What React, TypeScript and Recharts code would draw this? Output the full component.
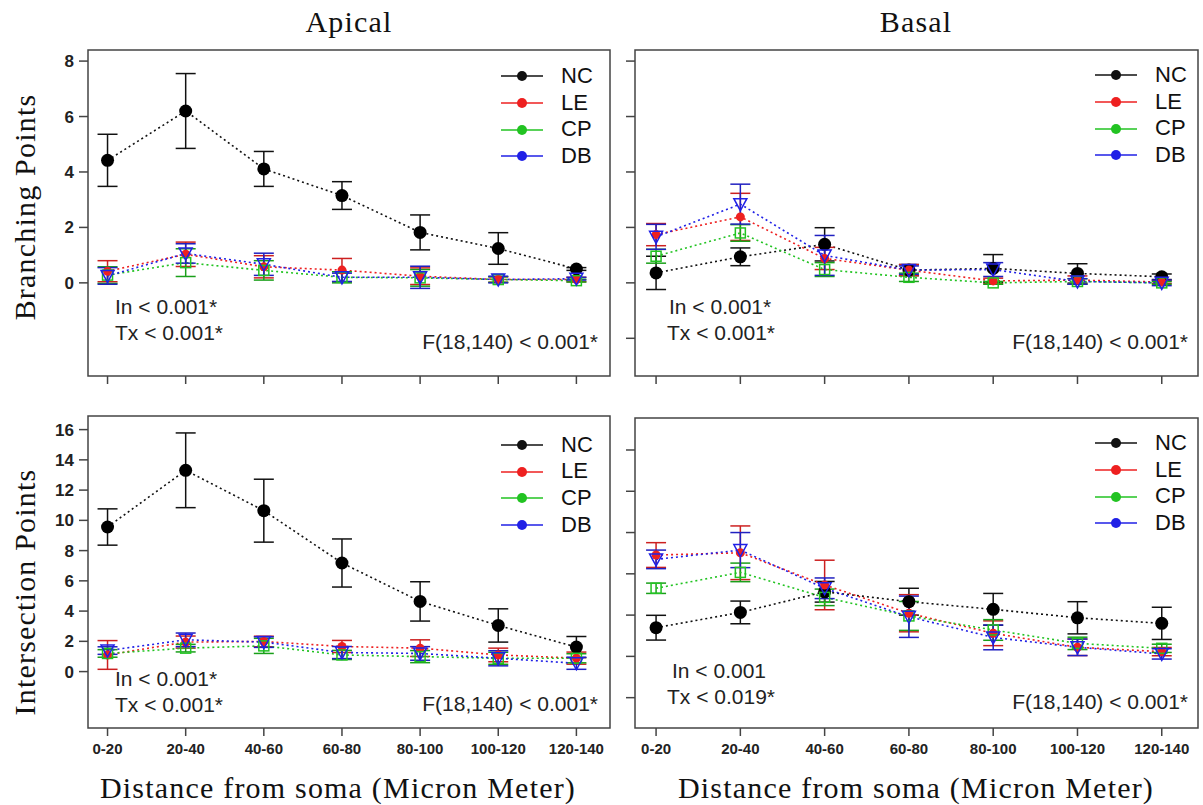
import React from "react";
import { LineChart, Line, XAxis, YAxis, ErrorBar, ReferenceArea, Legend } from "recharts";

// distance bins (µm from soma)
const categories = ["0-20", "20-40", "40-60", "60-80", "80-100", "100-120", "120-140"];
const groups = ["NC", "LE", "CP", "DB"];
const groupColors: Record<string, string> = { NC: "#111111", LE: "#ee2020", CP: "#22c322", DB: "#2020e6" };
const barColors: Record<string, string> = { NC: "#111111", LE: "#cc2020", CP: "#1a9f1a", DB: "#2020c0" };

// Apical – branching points
const apicalBranchNC = [4.42, 6.2, 4.11, 3.15, 1.82, 1.24, 0.5];
const apicalBranchNCErr = [0.94, 1.35, 0.63, 0.5, 0.63, 0.57, 0.05];
const apicalBranchLE = [0.42, 1.03, 0.58, 0.46, 0.24, 0.12, 0.12];
const apicalBranchLEErr = [0.38, 0.44, 0.4, 0.42, 0.3, 0.1, 0.08];
const apicalBranchCP = [0.28, 0.73, 0.45, 0.2, 0.18, 0.12, 0.08];
const apicalBranchCPErr = [0.3, 0.5, 0.35, 0.2, 0.3, 0.1, 0.05];
const apicalBranchDB = [0.25, 1.06, 0.67, 0.2, 0.2, 0.12, 0.15];
const apicalBranchDBErr = [0.3, 0.35, 0.4, 0.15, 0.4, 0.12, 0.05];

// Basal – branching points
const basalBranchNC = [0.36, 0.94, 1.39, 0.46, 0.52, 0.34, 0.22];
const basalBranchNCErr = [0.6, 0.32, 0.6, 0.2, 0.5, 0.35, 0.1];
const basalBranchLE = [1.74, 2.38, 0.88, 0.46, 0.07, 0.1, 0.03];
const basalBranchLEErr = [0.4, 0.85, 0.4, 0.2, 0.1, 0.15, 0.05];
const basalBranchCP = [0.96, 1.8, 0.48, 0.2, 0.0, 0.05, 0.0];
const basalBranchCPErr = [0.25, 0.3, 0.25, 0.15, 0.05, 0.1, 0.05];
const basalBranchDB = [1.66, 2.84, 0.99, 0.46, 0.48, 0.05, 0.0];
const basalBranchDBErr = [0.45, 0.72, 0.72, 0.15, 0.25, 0.1, 0.1];

// Apical – intersection points
const apicalInterNC = [9.56, 13.31, 10.64, 7.18, 4.64, 3.05, 1.62];
const apicalInterNCErr = [1.2, 2.47, 2.08, 1.59, 1.3, 1.1, 0.7];
const apicalInterLE = [1.1, 1.95, 1.99, 1.66, 1.55, 1.1, 0.89];
const apicalInterLEErr = [0.95, 0.4, 0.35, 0.4, 0.55, 0.45, 0.4];
const apicalInterCP = [1.2, 1.55, 1.7, 1.1, 0.99, 0.88, 0.88];
const apicalInterCPErr = [0.25, 0.25, 0.5, 0.3, 0.4, 0.4, 0.3];
const apicalInterDB = [1.39, 2.1, 1.95, 1.26, 1.2, 0.88, 0.55];
const apicalInterDBErr = [0.25, 0.45, 0.35, 0.4, 0.45, 0.5, 0.4];

// Basal – intersection points
const basalInterNC = [3.39, 4.13, 5.13, 4.65, 4.28, 3.87, 3.6];
const basalInterNCErr = [0.6, 0.55, 0.5, 0.65, 0.77, 0.78, 0.78];
const basalInterLE = [6.91, 7.02, 5.46, 4.09, 3.12, 2.44, 2.23];
const basalInterLEErr = [0.6, 1.3, 1.2, 0.9, 0.6, 0.4, 0.2];
const basalInterCP = [5.3, 6.07, 4.86, 3.96, 3.28, 2.63, 2.39];
const basalInterCPErr = [0.25, 0.45, 0.4, 0.7, 0.5, 0.3, 0.2];
const basalInterDB = [6.7, 7.15, 5.3, 3.92, 2.92, 2.44, 2.12];
const basalInterDBErr = [0.45, 0.85, 0.5, 1.0, 0.6, 0.4, 0.25];

const branchTicksLeft = [0, 2, 4, 6, 8];
const branchTicksRight = [-2, 0, 2, 4, 6, 8];
const interTicksLeft = [0, 2, 4, 6, 8, 10, 12, 14, 16];
const interTicksRight = [0, 2, 4, 6, 8, 10, 12];

const notesApicalBranch = ["In < 0.001*", "Tx < 0.001*", "F(18,140) < 0.001*"];
const notesBasalBranch = ["In < 0.001*", "Tx < 0.001*", "F(18,140) < 0.001*"];
const notesApicalInter = ["In < 0.001*", "Tx < 0.001*", "F(18,140) < 0.001*"];
const notesBasalInter = ["In < 0.001", "Tx < 0.019*", "F(18,140) < 0.001*"];

const X_DOMAIN: [number, number] = [0.75, 7.43];
const SANS = "'Liberation Sans', Arial, sans-serif";
const SERIF = "'Liberation Serif', 'Times New Roman', serif";

function buildRows(values: number[][], errors: number[][]) {
  return categories.map((c, i) => {
    const row: any = { x: i + 1, label: c };
    groups.forEach((g, k) => {
      row[g] = values[k][i];
      row[g + "Err"] = errors[k][i];
    });
    return row;
  });
}

function Marker(props: any) {
  const { cx, cy, group } = props;
  if (cx == null || cy == null) return null;
  const c = groupColors[group];
  if (group === "NC") return <circle cx={cx} cy={cy} r={6.5} fill="#000" />;
  if (group === "LE") return <circle cx={cx} cy={cy} r={4.5} fill={c} />;
  if (group === "CP")
    return <rect x={cx - 5} y={cy - 5} width={10} height={10} fill="none" stroke={c} strokeWidth={1.5} />;
  return (
    <path d={`M${cx - 6.5},${cy - 5.5}L${cx + 6.5},${cy - 5.5}L${cx},${cy + 6.5}Z`} fill="none" stroke={c} strokeWidth={1.5} />
  );
}

const renderLegend = (props: any) => {
  const items = [...(props.payload || [])].sort(
    (a: any, b: any) => groups.indexOf(a.value) - groups.indexOf(b.value)
  );
  return (
    <div style={{ fontFamily: SANS, fontSize: 22, color: "#111" }}>
      {items.map((item: any) => (
        <div key={item.value} style={{ display: "flex", alignItems: "center", height: 26.7 }}>
          <svg width={42} height={14}>
            <line x1={0} y1={7} x2={42} y2={7} stroke={item.color} strokeWidth={1.5} />
            <circle cx={21} cy={7} r={5} fill={item.color} />
          </svg>
          <span style={{ marginLeft: 18, lineHeight: "26.7px" }}>{item.value}</span>
        </div>
      ))}
    </div>
  );
};

interface PanelProps {
  left: number;
  top: number;
  width: number;
  height: number;
  margin: { top: number; right: number; bottom: number; left: number };
  yWidth: number;
  xHeight: number;
  yDomain: [number, number];
  yTicks: number[];
  showYLabels: boolean;
  showXLabels: boolean;
  rows: any[];
  legendPos: { left: number; top: number };
}

function Panel(p: PanelProps) {
  return (
    <div style={{ position: "absolute", left: p.left, top: p.top }}>
      <LineChart width={p.width} height={p.height} data={p.rows} margin={p.margin}>
        <ReferenceArea
          x1={X_DOMAIN[0]}
          x2={X_DOMAIN[1]}
          y1={p.yDomain[0]}
          y2={p.yDomain[1]}
          fill="none"
          stroke="#444"
          strokeWidth={1.5}
          ifOverflow="visible"
        />
        <XAxis
          type="number"
          dataKey="x"
          domain={X_DOMAIN}
          allowDataOverflow
          ticks={[1, 2, 3, 4, 5, 6, 7]}
          interval={0}
          axisLine={false}
          tickSize={8}
          tickMargin={7}
          height={p.xHeight}
          tickLine={{ stroke: "#444", strokeWidth: 1.5 }}
          tick={{ fontFamily: SANS, fontWeight: 700, fontSize: 15, fill: "#222" }}
          tickFormatter={(v: number) => (p.showXLabels ? categories[v - 1] : "")}
        />
        <YAxis
          type="number"
          domain={p.yDomain}
          allowDataOverflow
          ticks={p.yTicks}
          interval={0}
          width={p.yWidth}
          axisLine={false}
          tickSize={9}
          tickMargin={5}
          tickLine={{ stroke: "#444", strokeWidth: 1.5 }}
          tick={{ fontFamily: SANS, fontWeight: 700, fontSize: 17, fill: "#222" }}
          tickFormatter={(v: number) => (p.showYLabels ? String(v) : "")}
        />
        <Legend
          layout="vertical"
          align="center"
          verticalAlign="middle"
          content={renderLegend}
          wrapperStyle={{ left: p.legendPos.left, top: p.legendPos.top, width: 110 }}
        />
        {groups.map((g) => (
          <Line
            key={g}
            dataKey={g}
            name={g}
            stroke={groupColors[g]}
            strokeWidth={1.6}
            strokeDasharray="2 3"
            isAnimationActive={false}
            activeDot={false}
            dot={(dp: any) => <Marker key={`${g}-${dp.index}`} {...dp} group={g} />}
          >
            <ErrorBar
              dataKey={g + "Err"}
              direction="y"
              width={10}
              stroke={barColors[g]}
              strokeWidth={1.5}
              isAnimationActive={false}
            />
          </Line>
        ))}
      </LineChart>
    </div>
  );
}

function Note({ text, left, right, cy }: { text: string; left?: number; right?: number; cy: number }) {
  return (
    <div
      style={{
        position: "absolute",
        top: cy - 12,
        height: 24,
        lineHeight: "24px",
        left,
        width: right != null ? 260 : undefined,
        marginLeft: right != null ? right - 260 : 0,
        textAlign: right != null ? "right" : "left",
        fontFamily: SANS,
        fontSize: 21,
        color: "#222",
        whiteSpace: "nowrap",
      }}
    >
      {text}
    </div>
  );
}

function SerifTitle({ text, cx, cy, rotate }: { text: string; cx: number; cy: number; rotate?: boolean }) {
  return (
    <div
      style={{
        position: "absolute",
        left: cx,
        top: cy,
        transform: `translate(-50%, -50%)${rotate ? " rotate(-90deg)" : ""}`,
        fontFamily: SERIF,
        fontSize: 30,
        letterSpacing: 1.2,
        color: "#111",
        whiteSpace: "nowrap",
        lineHeight: "34px",
      }}
    >
      {text}
    </div>
  );
}

export default function App() {
  const rowsAB = buildRows(
    [apicalBranchNC, apicalBranchLE, apicalBranchCP, apicalBranchDB],
    [apicalBranchNCErr, apicalBranchLEErr, apicalBranchCPErr, apicalBranchDBErr]
  );
  const rowsBB = buildRows(
    [basalBranchNC, basalBranchLE, basalBranchCP, basalBranchDB],
    [basalBranchNCErr, basalBranchLEErr, basalBranchCPErr, basalBranchDBErr]
  );
  const rowsAI = buildRows(
    [apicalInterNC, apicalInterLE, apicalInterCP, apicalInterDB],
    [apicalInterNCErr, apicalInterLEErr, apicalInterCPErr, apicalInterDBErr]
  );
  const rowsBI = buildRows(
    [basalInterNC, basalInterLE, basalInterCP, basalInterDB],
    [basalInterNCErr, basalInterLEErr, basalInterCPErr, basalInterDBErr]
  );

  return (
    <div style={{ position: "absolute", left: 0, top: 0, width: 1203, height: 805, background: "#fff", overflow: "hidden" }}>
      <SerifTitle text="Apical" cx={349} cy={22} />
      <SerifTitle text="Basal" cx={916} cy={22} />
      <SerifTitle text="Branching Points" cx={25} cy={207} rotate />
      <SerifTitle text="Intersection Points" cx={25} cy={592} rotate />
      <SerifTitle text="Distance from soma (Micron Meter)" cx={338} cy={788} />
      <SerifTitle text="Distance from soma (Micron Meter)" cx={916} cy={788} />

      <Panel
        left={0}
        top={40}
        width={620}
        height={360}
        margin={{ top: 10, right: 10, bottom: 0, left: 0 }}
        yWidth={88}
        xHeight={24}
        yDomain={[-3.36, 8.4]}
        yTicks={branchTicksLeft}
        showYLabels
        showXLabels={false}
        rows={rowsAB}
        legendPos={{ left: 501, top: 23 }}
      />
      <Panel
        left={620}
        top={40}
        width={583}
        height={360}
        margin={{ top: 10, right: 5, bottom: 0, left: 0 }}
        yWidth={15}
        xHeight={24}
        yDomain={[-3.36, 8.4]}
        yTicks={branchTicksRight}
        showYLabels={false}
        showXLabels={false}
        rows={rowsBB}
        legendPos={{ left: 475, top: 22 }}
      />
      <Panel
        left={0}
        top={406}
        width={620}
        height={364}
        margin={{ top: 10, right: 10, bottom: 0, left: 0 }}
        yWidth={88}
        xHeight={42}
        yDomain={[-3.73, 16.9]}
        yTicks={interTicksLeft}
        showYLabels
        showXLabels
        rows={rowsAI}
        legendPos={{ left: 501, top: 25.6 }}
      />
      <Panel
        left={620}
        top={406}
        width={583}
        height={364}
        margin={{ top: 12, right: 5, bottom: 0, left: 0 }}
        yWidth={15}
        xHeight={42}
        yDomain={[-1.47, 13.55]}
        yTicks={interTicksRight}
        showYLabels={false}
        showXLabels
        rows={rowsBI}
        legendPos={{ left: 475, top: 24 }}
      />

      <Note text={notesApicalBranch[0]} left={115} cy={307} />
      <Note text={notesApicalBranch[1]} left={115} cy={333} />
      <Note text={notesApicalBranch[2]} left={0} right={598} cy={342} />

      <Note text={notesBasalBranch[0]} left={669} cy={307} />
      <Note text={notesBasalBranch[1]} left={667} cy={333} />
      <Note text={notesBasalBranch[2]} left={0} right={1188} cy={342} />

      <Note text={notesApicalInter[0]} left={115} cy={679} />
      <Note text={notesApicalInter[1]} left={115} cy={705} />
      <Note text={notesApicalInter[2]} left={0} right={598} cy={704} />

      <Note text={notesBasalInter[0]} left={672} cy={671} />
      <Note text={notesBasalInter[1]} left={667} cy={697} />
      <Note text={notesBasalInter[2]} left={0} right={1188} cy={702} />
    </div>
  );
}
